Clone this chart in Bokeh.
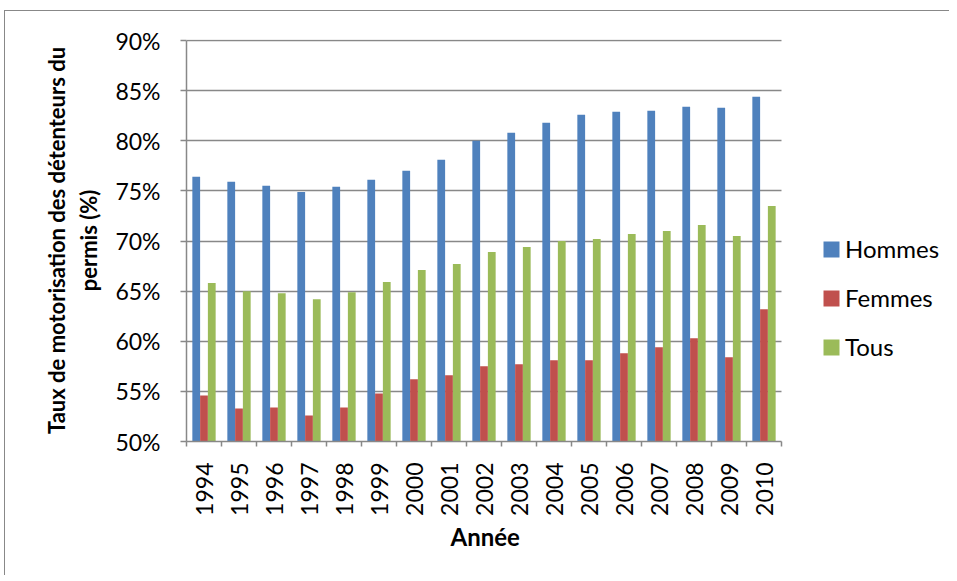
import math
from bokeh.plotting import figure
from bokeh.models import (FixedTicker, Range1d, Legend, LegendItem, Title,
                          PrintfTickFormatter, ColumnDataSource)
from bokeh.transform import dodge
from bokeh.embed import file_html
from bokeh.resources import INLINE

# ---- data ----
years = ["1994", "1995", "1996", "1997", "1998", "1999", "2000", "2001", "2002",
         "2003", "2004", "2005", "2006", "2007", "2008", "2009", "2010"]
hommes = [76.4, 75.9, 75.5, 74.9, 75.4, 76.1, 77.0, 78.1, 80.0,
          80.8, 81.8, 82.6, 82.9, 83.0, 83.4, 83.3, 84.4]
femmes = [54.6, 53.3, 53.4, 52.6, 53.4, 54.8, 56.2, 56.6, 57.5,
          57.7, 58.1, 58.1, 58.8, 59.4, 60.3, 58.4, 63.2]
tous = [65.8, 65.0, 64.8, 64.2, 64.9, 65.9, 67.1, 67.7, 68.9,
        69.4, 70.0, 70.2, 70.7, 71.0, 71.6, 70.5, 73.5]
y_ticks = [50, 55, 60, 65, 70, 75, 80, 85, 90]
series_names = ["Hommes", "Femmes", "Tous"]
colors = ["#4F81BD", "#C0504D", "#9BBB59"]

n = len(years)
centers = [i + 0.5 for i in range(n)]
bounds = list(range(n + 1))
source = ColumnDataSource(dict(x=centers, hommes=hommes, femmes=femmes, tous=tous))

FONT = "Lato"
GRAY = "#888888"

# layout (pixels)
W, H = 945, 565
LEFT, TOP, BOTTOM = 181, 28, 135
frame_w = W - LEFT
bars_w = 595  # pixel width of the category area
x_end = n * frame_w / bars_w

p = figure(width=W, height=H, output_backend="svg", toolbar_location=None,
           x_range=Range1d(0, x_end), y_range=Range1d(y_ticks[0], y_ticks[-1] + 0.1),
           min_border_left=LEFT, min_border_right=0, min_border_top=TOP,
           min_border_bottom=BOTTOM)
p.outline_line_color = None
p.background_fill_color = "white"
p.border_fill_color = "white"
p.styles = {"margin-left": "4px", "margin-top": "10px",
            "border-top": "1px solid #888888", "border-left": "1px solid #888888"}

bw = 0.222
cols = ["hommes", "femmes", "tous"]
offs = [-bw, 0.0, bw]
renderers = []
for c, off, col in zip(cols, offs, colors):
    r = p.vbar(x=dodge("x", off), top=c, bottom=y_ticks[0], width=bw, source=source,
               fill_color=col, line_color=None)
    renderers.append(r)

# grid
p.xgrid.grid_line_color = None
p.ygrid.ticker = FixedTicker(ticks=y_ticks)
p.ygrid.grid_line_color = GRAY
p.ygrid.grid_line_width = 1.5
p.ygrid.cross_bounds = (0, n)

# y axis
ya = p.yaxis[0]
ya.ticker = FixedTicker(ticks=y_ticks)
ya.formatter = PrintfTickFormatter(format="%d%%")
ya.axis_line_color = GRAY
ya.axis_line_width = 1.5
ya.major_tick_line_color = GRAY
ya.major_tick_line_width = 1.5
ya.major_tick_out = 6
ya.major_tick_in = 0
ya.minor_tick_line_color = None
ya.major_label_text_font = FONT
ya.major_label_text_font_size = "23px"
ya.major_label_text_color = "black"
ya.major_label_standoff = 20
ya.axis_label = "Taux de motorisation des détenteurs du\npermis (%)"
ya.axis_label_text_font = FONT
ya.axis_label_text_font_style = "bold"
ya.axis_label_text_font_size = "22px"
ya.axis_label_text_color = "black"
ya.axis_label_standoff = 10
ya.bounds = (y_ticks[0], y_ticks[-1])

# x axis
xa = p.xaxis[0]
xa.bounds = (0, n)
xa.ticker = FixedTicker(ticks=centers, minor_ticks=bounds)
xa.major_label_overrides = {c: y for c, y in zip(centers, years)}
xa.major_tick_line_color = None
xa.major_tick_out = 0
xa.major_tick_in = 0
xa.minor_tick_line_color = GRAY
xa.minor_tick_line_width = 1.5
xa.minor_tick_out = 5
xa.minor_tick_in = 0
xa.axis_line_color = GRAY
xa.axis_line_width = 1.5
xa.major_label_orientation = math.pi / 2
xa.major_label_text_font = FONT
xa.major_label_text_font_size = "23px"
xa.major_label_text_color = "black"
xa.major_label_standoff = 16

xtitle = Title(text="Année", align="left", offset=264, standoff=2,
               text_font=FONT, text_font_style="bold", text_font_size="24px",
               text_color="black")
p.add_layout(xtitle, "below")

legend = Legend(items=[LegendItem(label=nm, renderers=[r]) for nm, r in zip(series_names, renderers)],
                location=(635, 80), glyph_width=20, glyph_height=20, label_standoff=4,
                label_height=28, spacing=20, padding=0, margin=0, border_line_color=None,
                background_fill_alpha=0, label_text_font=FONT,
                label_text_font_size="24px", label_text_color="black")
p.add_layout(legend)

open("out.html", "w").write(file_html(p, INLINE))
